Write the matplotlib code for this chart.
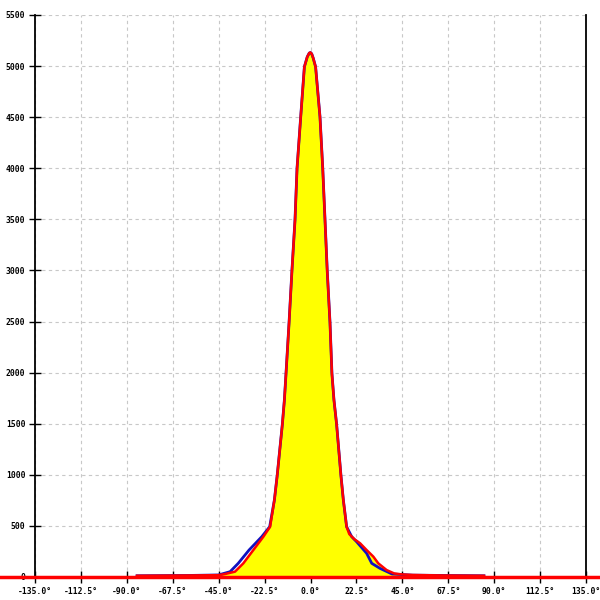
import matplotlib
matplotlib.use("Agg")
import matplotlib.pyplot as plt
import matplotlib.transforms as mtransforms

# angle (deg) vs counts
red_x = [-85, -60, -45, -41.9, -37, -32.9, -28, -23.1, -19.8, -17.7, -16.3, -13.8, -12.8,
         -12.0, -10.5, -9.1, -7.6, -6.6, -4.8, -3.0, -1.6, -0.6, 0, 0.6, 1.3, 2.5, 4.65,
         6.0, 7.1, 8.2, 9.55, 10.5, 11.5, 12.8, 14.9, 16.1, 17.7, 19.0, 21.5, 24.3, 27.5,
         30.8, 33.2, 37.3, 41, 45, 50, 65, 85]
red_y = [12, 15, 18, 29, 52, 134, 264, 394, 492, 753, 998, 1494, 1732,
         1993, 2492, 2997, 3493, 4000, 4504, 4993, 5090, 5128, 5133, 5120, 5080, 4993, 4504,
         4000, 3500, 2997, 2492, 1993, 1732, 1494, 998, 753, 492, 420, 370, 330, 264,
         199, 134, 68, 35, 25, 20, 15, 12]

blue_x = [-85, -60, -45, -43.5, -39.4, -35.4, -30.1, -23.9, -20.0, -17.7, -16.3, -13.8, -12.8,
          -12.0, -10.5, -9.1, -7.6, -6.6, -4.8, -3.0, -1.6, -0.6, 0, 0.6, 1.3, 2.5, 4.65,
          6.0, 7.1, 8.2, 9.55, 10.5, 11.5, 12.8, 14.9, 16.1, 17.7, 20.2, 22.6, 27.5,
          30, 34, 40, 50, 65, 85]
blue_y = [12, 15, 20, 29, 52, 134, 264, 394, 492, 753, 998, 1494, 1732,
          1993, 2492, 2997, 3493, 4000, 4504, 4993, 5090, 5128, 5133, 5120, 5080, 4993, 4504,
          4000, 3500, 2997, 2492, 1993, 1732, 1494, 998, 753, 492, 394, 345, 232,
          134, 85, 29, 18, 15, 12]

x_ticks = [-135 + 22.5 * i for i in range(13)]
y_ticks = list(range(0, 5501, 500))

fig = plt.figure(figsize=(6, 6), dpi=100)
ax = fig.add_axes([35 / 600, 23 / 600, 551 / 600, 562 / 600])

ax.fill_between(red_x, red_y, 0, color="#ffff00", lw=0, zorder=2)
ax.plot(blue_x, blue_y, color="#1010c0", lw=2.0, zorder=3)
ax.plot(red_x, red_y, color="#ff0000", lw=1.8, zorder=4)

# red baseline running across the whole picture
trans = mtransforms.blended_transform_factory(fig.transFigure, ax.transData)
ax.plot([0, 1], [0, 0], color="#ff0000", lw=2.5, transform=trans, clip_on=False, zorder=5)

ax.set_xlim(-135, 135)
ax.set_ylim(0, 5500)
ax.set_xticks(x_ticks)
ax.set_xticklabels(["%.1f°" % v for v in x_ticks])
ax.set_yticks(y_ticks)
ax.set_yticklabels([str(v) for v in y_ticks])

ax.grid(True, color="#c8c8c8", linestyle=(0, (3, 3)), lw=0.8, zorder=0)
ax.set_axisbelow(True)

ax.spines["top"].set_visible(False)
for s in ["left", "right", "bottom"]:
    ax.spines[s].set_color("black")
    ax.spines[s].set_linewidth(1.3)

ax.tick_params(direction="inout", length=8, width=1.0, colors="black",
               labelsize=5.8, pad=3)
for lab in ax.get_xticklabels() + ax.get_yticklabels():
    lab.set_family("DejaVu Sans Mono")
    lab.set_fontweight("bold")

fig.savefig("out.png", dpi=100)
